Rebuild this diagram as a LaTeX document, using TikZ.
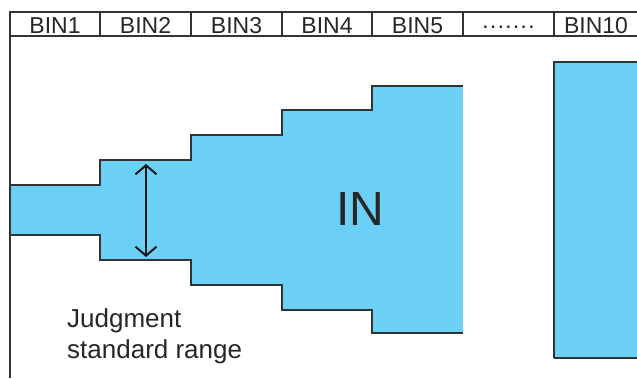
\documentclass[tikz,border=0pt]{standalone}
\usepackage{fontspec}
\setmainfont{Liberation Sans}
\usetikzlibrary{arrows.meta}
\definecolor{inblue}{HTML}{6CCFF6}
\definecolor{edge}{HTML}{333333}
\begin{document}
\begin{tikzpicture}[x=1pt,y=-1pt,
  frameline/.style={draw=edge,line width=1.4pt},
  stairline/.style={draw=edge,line width=1.6pt},
  binlabel/.style={font=\fontsize{23}{23}\selectfont,text=black!85,inner sep=0pt,anchor=base},
  dimarrow/.style={draw=black!90,line width=2pt,{Straight Barb[length=9pt,width=21pt]}-{Straight Barb[length=9pt,width=21pt]}}]
\useasboundingbox (0,0) rectangle (637,378);
% blue shapes
\fill[inblue] (10,185) -- (100,185) -- (100,160) -- (191,160) -- (191,135) -- (282,135) -- (282,110) -- (372,110) -- (372,86) -- (463,86)
  -- (463,333) -- (372,333) -- (372,310) -- (282,310) -- (282,285) -- (191,285) -- (191,260) -- (100,260) -- (100,235) -- (10,235) -- cycle;
\draw[stairline] (10,185) -- (100,185) -- (100,160) -- (191,160) -- (191,135) -- (282,135) -- (282,110) -- (372,110) -- (372,86) -- (463,86);
\draw[stairline] (10,235) -- (100,235) -- (100,260) -- (191,260) -- (191,285) -- (282,285) -- (282,310) -- (372,310) -- (372,333) -- (463,333);
\fill[inblue] (554,62) rectangle (637,358);
\draw[stairline] (554,358) -- (554,62) -- (637,62);
\draw[stairline] (554,358) -- (637,358);
% frame and header
\draw[frameline] (637,12) -- (10,12) -- (10,378);
\draw[frameline] (10,36) -- (637,36);
\foreach \xx in {100,191,282,372,463,554} \draw[draw=edge,line width=1.1pt] (\xx,12) -- (\xx,36);
\node[binlabel] (b1) at (55,33) {BIN1};
\node[binlabel] (b2) at (145.5,33) {BIN2};
\node[binlabel] (b3) at (236.5,33) {BIN3};
\node[binlabel] (b4) at (327,33) {BIN4};
\node[binlabel] (b5) at (417.5,33) {BIN5};
\node[binlabel] (bd) at (508.5,33) {·······};
\node[binlabel] (b10) at (596,33) {BIN10};
% IN label
\node[font=\fontsize{48}{48}\selectfont,text=black!85,inner sep=0pt,anchor=base] (in) at (360,225) {IN};
% arrow
\coordinate (atop) at (146,164);
\coordinate (abot) at (146,257);
\draw[dimarrow] (atop) -- (abot);
% label
\node[font=\fontsize{26}{31}\selectfont,text=black!85,align=left,anchor=base west,inner sep=0pt] (jr) at (67,358) {Judgment\\standard range};
\end{tikzpicture}
\end{document}
